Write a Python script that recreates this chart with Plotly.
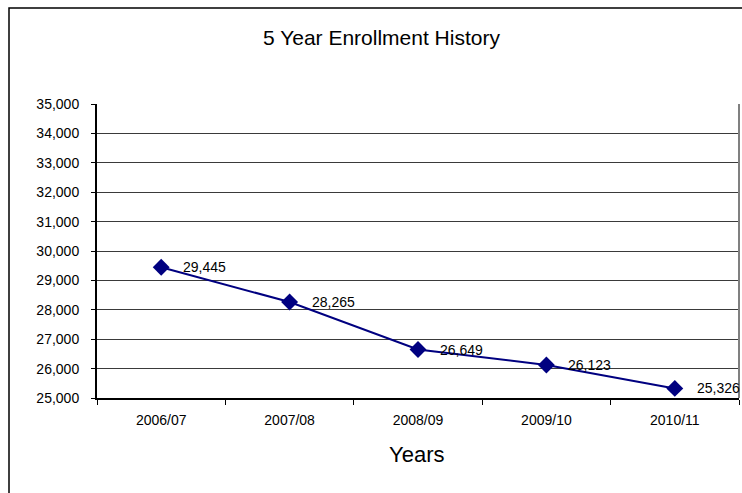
import plotly.graph_objects as go

years = ["2006/07", "2007/08", "2008/09", "2009/10", "2010/11"]
enrollment = [29445, 28265, 26649, 26123, 25326]
y_ticks = [25000, 26000, 27000, 28000, 29000, 30000, 31000, 32000, 33000, 34000, 35000]
title_text = "5 Year Enrollment History"
x_title = "Years"

W, H = 742, 493
L, R, T, B = 97, 3, 104, 95
pw, ph = W - L - R, H - T - B

def px_x(px):
    return (px - L) / pw

def px_y(py):
    return (H - B - py) / ph

FONT = "Liberation Sans, Arial, sans-serif"

fig = go.Figure()
fig.add_trace(go.Scatter(
    x=years, y=enrollment, mode="lines+markers",
    line=dict(color="#000080", width=2),
    marker=dict(symbol="diamond", size=13, color="#000080"),
    hoverinfo="x+y", showlegend=False,
))

annotations = []
for cat, val in zip(years, enrollment):
    annotations.append(dict(
        x=cat, y=val, xref="x", yref="y", text=f"{val:,}",
        showarrow=False, xanchor="left", yanchor="middle", xshift=20,
        font=dict(family=FONT, size=14, color="#000000"),
    ))
annotations.append(dict(
    x=(381 - L) / pw, y=px_y(37), xref="paper", yref="paper", text=title_text,
    showarrow=False, xanchor="center", yanchor="middle",
    font=dict(family=FONT, size=21, color="#000000"),
))
annotations.append(dict(
    x=(416 - L) / pw, y=px_y(455), xref="paper", yref="paper", text=x_title,
    showarrow=False, xanchor="center", yanchor="middle",
    font=dict(family=FONT, size=22, color="#000000"),
))

shapes = [
    # outer chart border (extends past the window on right/bottom)
    dict(type="rect", xref="paper", yref="paper",
         x0=px_x(9), x1=px_x(760), y0=px_y(520), y1=px_y(8),
         line=dict(color="#000000", width=1.5), fillcolor="rgba(0,0,0,0)", layer="below"),
    # right plot border (gray)
    dict(type="line", xref="paper", yref="paper", x0=1, x1=1, y0=0, y1=1,
         line=dict(color="#808080", width=2)),
]

fig.update_layout(
    width=W, height=H,
    margin=dict(l=L, r=R, t=T, b=B),
    paper_bgcolor="white", plot_bgcolor="white",
    font=dict(family=FONT, size=14, color="#000000"),
    annotations=annotations, shapes=shapes,
    showlegend=False,
)
fig.update_xaxes(
    type="category", range=[-0.5, 4.5],
    tickson="boundaries", ticks="outside", ticklen=5, tickcolor="#000000",
    showgrid=False, showline=True, linecolor="#000000", linewidth=2,
    tickfont=dict(family=FONT, size=14, color="#000000"),
    ticklabelstandoff=8, zeroline=False,
)
fig.update_yaxes(
    range=[25000, 35000], tickvals=y_ticks,
    ticktext=[f"{v:,}" for v in y_ticks],
    ticks="outside", ticklen=4, tickcolor="#000000",
    showgrid=True, gridcolor="#3a3a3a", gridwidth=1.2,
    showline=True, linecolor="#000000", linewidth=2,
    tickfont=dict(family=FONT, size=14, color="#000000"),
    ticklabelstandoff=9, zeroline=False,
)

fig.write_html("out.html")
